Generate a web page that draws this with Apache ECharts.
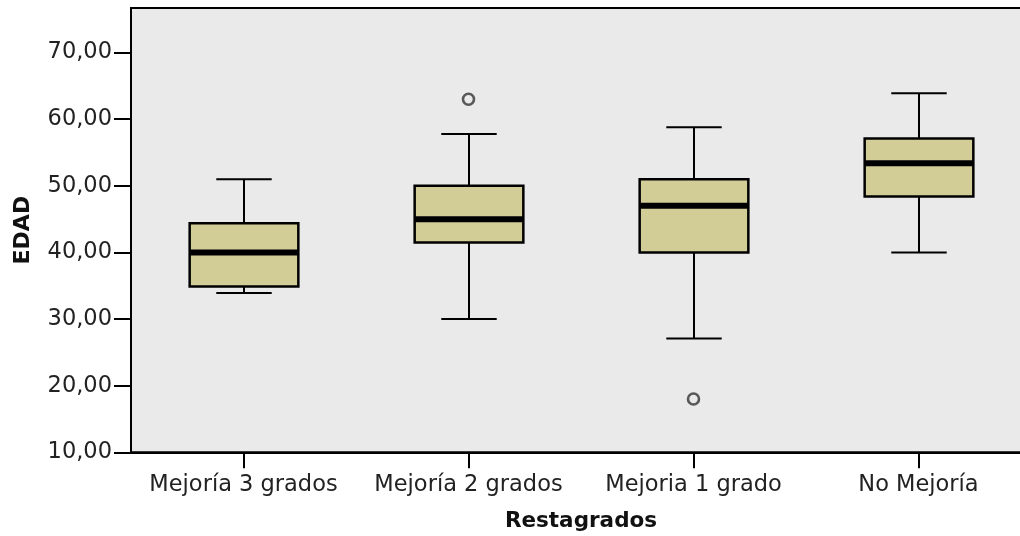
<!DOCTYPE html>
<html>
<head>
<meta charset="utf-8">
<script src="https://cdn.jsdelivr.net/npm/echarts@6/dist/echarts.min.js"></script>
<style>
  html, body { margin: 0; padding: 0; background: #fff; }
  #chart { width: 1020px; height: 536px; }
</style>
</head>
<body>
<div id="chart"></div>
<script>
// Groups on the horizontal axis
const categories = ['Mejoría 3 grados', 'Mejoría 2 grados', 'Mejoria 1 grado', 'No Mejoría'];
// Five-number summaries per group: [whisker low, Q1, median, Q3, whisker high]
const whiskerLow = [33.9, 30.0, 27.1, 40.0];
const q1Values   = [34.9, 41.5, 40.0, 48.4];
const medians    = [40.0, 45.0, 47.0, 53.4];
const q3Values   = [44.4, 50.0, 51.0, 57.1];
const whiskerHigh = [51.0, 57.8, 58.8, 63.9];
// Outliers: [group index, value]
const outliers = [[1, 63.0], [2, 18.0]];
// Y tick values
const yTicks = [10, 20, 30, 40, 50, 60, 70];

const boxData = categories.map((c, i) => [i, whiskerLow[i], q1Values[i], medians[i], q3Values[i], whiskerHigh[i]]);

const fmt = v => Number(v).toFixed(2).replace('.', ',');
const FONT = 'DejaVu Sans';

function renderBox(params, api) {
  const i = api.value(0);
  const lo = api.coord([i, api.value(1)]);
  const q1 = api.coord([i, api.value(2)]);
  const md = api.coord([i, api.value(3)]);
  const q3 = api.coord([i, api.value(4)]);
  const hi = api.coord([i, api.value(5)]);
  const band = api.size([1, 0])[0];
  const bw = band * 0.483;
  const cw = bw * 0.51;
  const cx = Math.round(lo[0]);
  const lineStyle = { stroke: '#000', lineWidth: 2 };
  return {
    type: 'group',
    children: [
      { type: 'line', shape: { x1: cx, y1: q1[1], x2: cx, y2: lo[1] }, style: lineStyle },
      { type: 'line', shape: { x1: cx, y1: q3[1], x2: cx, y2: hi[1] }, style: lineStyle },
      { type: 'line', shape: { x1: cx - cw / 2, y1: lo[1], x2: cx + cw / 2, y2: lo[1] }, style: lineStyle },
      { type: 'line', shape: { x1: cx - cw / 2, y1: hi[1], x2: cx + cw / 2, y2: hi[1] }, style: lineStyle },
      { type: 'rect', shape: { x: cx - bw / 2, y: q3[1], width: bw, height: q1[1] - q3[1] },
        style: { fill: '#d2cd96', stroke: '#000', lineWidth: 2.5 } },
      { type: 'line', shape: { x1: cx - bw / 2, y1: md[1], x2: cx + bw / 2, y2: md[1] },
        style: { stroke: '#000', lineWidth: 6 } }
    ]
  };
}

const chart = echarts.init(document.getElementById('chart'), null, { renderer: 'canvas' });
chart.setOption({
  animation: false,
  backgroundColor: '#ffffff',
  grid: {
    left: 131, top: 8, width: 900, height: 444.3,
    outerBoundsMode: 'none',
    containLabel: false,
    show: true, backgroundColor: '#eaeaea', borderColor: '#000', borderWidth: 2
  },
  xAxis: {
    type: 'category',
    data: categories,
    boundaryGap: true,
    name: 'Restagrados',
    nameLocation: 'middle',
    nameGap: 58,
    nameTextStyle: { fontFamily: FONT, fontSize: 21.5, fontWeight: 'bold', color: '#111' },
    axisLine: { show: true, lineStyle: { color: '#000', width: 2 } },
    axisTick: { show: true, alignWithLabel: true, interval: 0, length: 16, lineStyle: { color: '#000', width: 2 } },
    axisLabel: { interval: 0, margin: 21, fontFamily: FONT, fontSize: 22.5, color: '#222' },
    splitLine: { show: false }
  },
  yAxis: {
    type: 'value',
    min: 10,
    max: 76.7,
    interval: 10,
    name: 'EDAD',
    nameLocation: 'middle',
    nameGap: 97,
    nameTextStyle: { fontFamily: FONT, fontSize: 22, fontWeight: 'bold', color: '#111' },
    axisLine: { show: true, lineStyle: { color: '#000', width: 2 } },
    axisTick: { show: true, length: 17, customValues: yTicks, lineStyle: { color: '#000', width: 2 } },
    axisLabel: { margin: 19, padding: [4, 0, 0, 0], fontFamily: FONT, fontSize: 22.5, color: '#222', customValues: yTicks, formatter: fmt },
    splitLine: { show: false }
  },
  series: [
    {
      type: 'custom',
      renderItem: renderBox,
      data: boxData,
      encode: { x: 0, y: [1, 2, 3, 4, 5] },
      z: 3
    },
    {
      type: 'scatter',
      data: outliers,
      symbol: 'circle',
      symbolSize: 11,
      itemStyle: { color: 'transparent', borderColor: '#333', borderWidth: 2.6 },
      z: 4
    }
  ]
});
</script>
</body>
</html>
